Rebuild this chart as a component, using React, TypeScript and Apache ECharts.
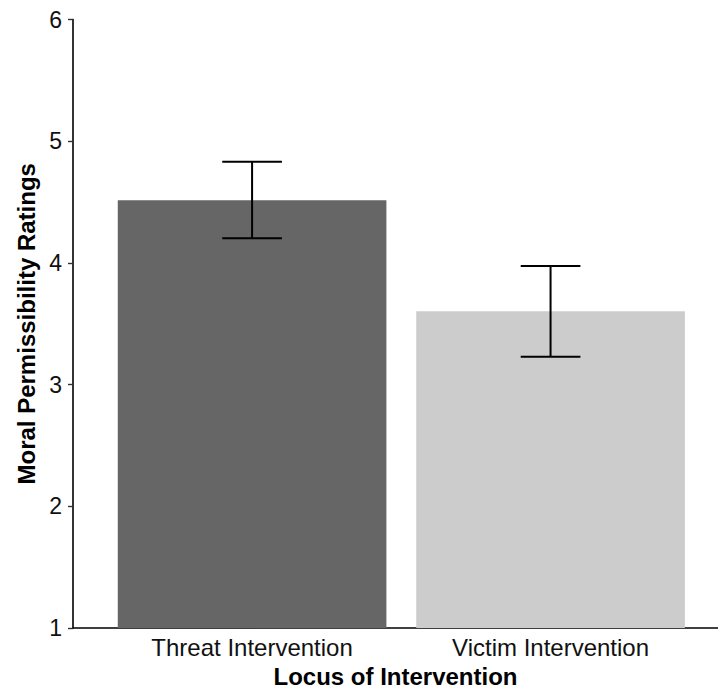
import React, { useEffect, useRef } from "react";
import * as echarts from "echarts";

const categories = ["Threat Intervention", "Victim Intervention"];
const means = [4.516, 3.603];
const errLow = [4.203, 3.23];
const errHigh = [4.832, 3.974];
const barColors = ["#666666", "#cccccc"];
const yTicks = [1, 2, 3, 4, 5, 6];

const FONT = "Liberation Sans, Arial, Helvetica, sans-serif";

export default function App() {
  const ref = useRef<HTMLDivElement>(null);
  useEffect(() => {
    if (!ref.current) return;
    const chart = echarts.init(ref.current, null, { renderer: "svg" });
    const barData = means.map((m, i) => [i + 1, m, errLow[i], errHigh[i]]);
    chart.setOption({
      animation: false,
      backgroundColor: "#ffffff",
      grid: { left: 73, top: 19.5, width: 645, height: 611.5 },
      xAxis: {
        type: "value",
        min: 0.4,
        max: 2.561,
        name: "Locus of Intervention",
        nameLocation: "middle",
        nameGap: 27,
        nameTextStyle: { fontFamily: FONT, fontSize: 24, fontWeight: "bold", color: "#000" },
        axisLine: { show: true, lineStyle: { color: "#000", width: 1.6 } },
        axisTick: { show: false },
        splitLine: { show: false },
        axisLabel: {
          customValues: [1, 2],
          formatter: (v: number) => categories[Math.round(v) - 1] ?? "",
          fontFamily: FONT,
          fontSize: 24,
          color: "#111",
          margin: 7,
        },
      },
      yAxis: {
        type: "value",
        min: yTicks[0],
        max: yTicks[yTicks.length - 1],
        interval: 1,
        name: "Moral Permissibility Ratings",
        nameLocation: "middle",
        nameGap: 35,
        nameTextStyle: { fontFamily: FONT, fontSize: 24, fontWeight: "bold", color: "#000" },
        axisLine: { show: true, lineStyle: { color: "#000", width: 1.6 } },
        axisTick: { show: true, length: 5, lineStyle: { color: "#333", width: 1.4 } },
        splitLine: { show: false },
        axisLabel: { fontFamily: FONT, fontSize: 23, color: "#111", margin: 11 },
      },
      series: [
        {
          type: "custom",
          clip: true,
          data: barData,
          encode: { x: 0, y: 1 },
          z: 1,
          renderItem: (params: any, api: any) => {
            const x = api.value(0);
            const m = api.value(1);
            const lo = api.value(2);
            const hi = api.value(3);
            const tl = api.coord([x - 0.45, m]);
            const br = api.coord([x + 0.45, 1]);
            const top = api.coord([x, hi]);
            const bot = api.coord([x, lo]);
            const capL = api.coord([x - 0.1, hi])[0];
            const capR = api.coord([x + 0.1, hi])[0];
            const ls = { stroke: "#000", lineWidth: 2 };
            return {
              type: "group",
              children: [
                {
                  type: "rect",
                  shape: { x: tl[0], y: tl[1], width: br[0] - tl[0], height: br[1] - tl[1] },
                  style: { fill: barColors[params.dataIndex] },
                },
                { type: "line", shape: { x1: top[0], y1: top[1], x2: bot[0], y2: bot[1] }, style: ls },
                { type: "line", shape: { x1: capL, y1: top[1], x2: capR, y2: top[1] }, style: ls },
                { type: "line", shape: { x1: capL, y1: bot[1], x2: capR, y2: bot[1] }, style: ls },
              ],
            };
          },
        },
      ],
    });
    return () => chart.dispose();
  }, []);
  return (
    <div
      ref={ref}
      style={{ position: "fixed", left: 0, top: 0, width: 718, height: 693 }}
    />
  );
}
